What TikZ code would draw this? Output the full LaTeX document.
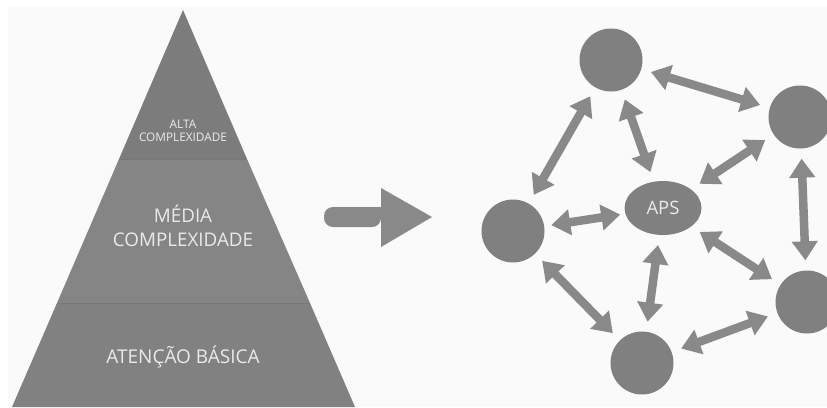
\documentclass[tikz,border=0pt]{standalone}
\usepackage{fontspec}
\setmainfont{Open Sans}
\usepackage{tikz}
\usetikzlibrary{arrows.meta,positioning,shapes.geometric}
\definecolor{fundo}{HTML}{FAFAFA}
\definecolor{topo}{HTML}{7C7C7C}
\definecolor{meio}{HTML}{858585}
\definecolor{base}{HTML}{818181}
\definecolor{divisa}{HTML}{787878}
\definecolor{bola}{HTML}{808080}
\definecolor{seta}{HTML}{898989}
\definecolor{letra}{HTML}{EAEAEA}

\begin{document}
\begin{tikzpicture}[x=1pt,y=-1pt,
  texto/.style={text=letra,align=center,inner sep=0pt},
  no/.style={circle,fill=bola,minimum size=63pt,inner sep=0pt},
  liga/.style={seta,line width=8.5pt,
    {Triangle[width=25pt,length=19pt]}-{Triangle[width=25pt,length=19pt]},
    shorten <=10pt,shorten >=10pt}]
  \useasboundingbox (0,0) rectangle (827,407);
  \fill[fundo] (8,7) rectangle (827,407);

  % piramide
  \fill[topo] (183,10) -- (119,159) -- (247,159) -- cycle;
  \fill[meio] (119,159) -- (57,303) -- (310,303) -- (247,159) -- cycle;
  \fill[base] (57,303) -- (12,407) -- (355,407) -- (310,303) -- cycle;
  \draw[divisa,line width=1pt] (119,159) -- (247,159);
  \draw[divisa,line width=1pt] (57,303) -- (310,303);
  \node[texto,font=\fontsize{11.8}{13}\selectfont] (alta) at (183,131) {ALTA\\COMPLEXIDADE};
  \node[texto,font=\fontsize{18.8}{23.5}\selectfont] (media) at (183,226) {MÉDIA\\COMPLEXIDADE};
  \node[texto,font=\fontsize{19}{22}\selectfont,anchor=base] (basica) at (183,363) {ATENÇÃO BÁSICA};

  % seta grande
  \fill[seta,rounded corners=9pt] (381,207) -- (324,207) -- (324,227) -- (381,227) [sharp corners] -- cycle;
  \fill[seta] (381,188) -- (432,217) -- (381,247) -- cycle;

  % rede
  \node[no] (cima) at (611,60) {};
  \node[no] (dir) at (800,117) {};
  \node[no] (esq) at (513,231) {};
  \node[no] (dirb) at (807,302) {};
  \node[no] (baixo) at (642,363) {};
  \node[ellipse,fill=bola,minimum width=77pt,minimum height=54pt,inner sep=0pt,
        text=letra,font=\fontsize{18.5}{20}\selectfont] (aps) at (663,208) {APS};

  \draw[liga] (cima) -- (dir);
  \draw[liga] (cima) -- (esq);
  \draw[liga] (cima) -- (aps);
  \draw[liga] (dir) -- (aps);
  \draw[liga] (dir) -- (dirb);
  \draw[liga,shorten <=7pt,shorten >=5pt] (esq) -- (aps);
  \draw[liga] (aps) -- (dirb);
  \draw[liga] (aps) -- (baixo);
  \draw[liga] (esq) -- (baixo);
  \draw[liga] (baixo) -- (dirb);
\end{tikzpicture}
\end{document}
